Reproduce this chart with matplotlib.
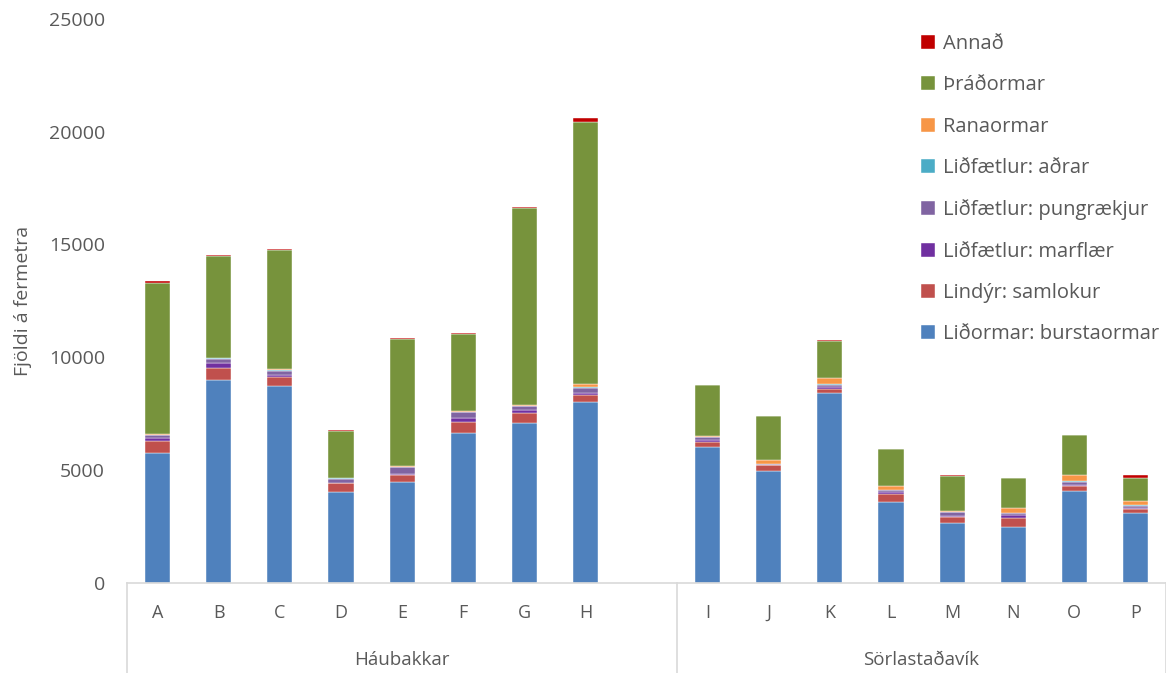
import numpy as np
import matplotlib
matplotlib.use("Agg")
import matplotlib.pyplot as plt

plt.rcParams['font.family'] = ['Open Sans', 'DejaVu Sans']

# Station letters; an empty slot separates the two sites
stations = ["A", "B", "C", "D", "E", "F", "G", "H", "",
            "I", "J", "K", "L", "M", "N", "O", "P"]
groups = ["Háubakkar", "Sörlastaðavík"]

# Individuals per m2, one list per taxon (gap slot = 0)
burstaormar = [5740, 9010, 8717, 4013, 4456, 6624, 7067, 8023, 0,
               6003, 4956, 8421, 3570, 2640, 2492, 4085, 3083]
samlokur = [560, 520, 390, 400, 340, 510, 470, 300, 0,
            220, 266, 190, 370, 270, 370, 210, 190]
marflaer = [100, 220, 120, 30, 30, 150, 120, 100, 0,
            90, 20, 60, 100, 60, 150, 60, 50]
pungraekjur = [150, 190, 170, 180, 310, 300, 180, 200, 0,
               130, 30, 120, 60, 160, 80, 120, 100]
adrar = [20, 20, 20, 10, 10, 10, 20, 70, 0,
         20, 10, 20, 20, 20, 20, 50, 30]
ranaormar = [30, 10, 75, 20, 20, 20, 40, 100, 0,
             50, 150, 265, 150, 50, 200, 250, 180]
thradormar = [6700, 4500, 5280, 2080, 5620, 3400, 8700, 11650, 0,
              2250, 1950, 1650, 1650, 1550, 1320, 1760, 1030]
annad = [60, 50, 20, 40, 50, 50, 60, 180, 0,
         20, 20, 20, 10, 20, 20, 20, 100]

series = [
    ("Liðormar: burstaormar", burstaormar, "#4F81BD"),
    ("Lindýr: samlokur", samlokur, "#C0504D"),
    ("Liðfætlur: marflær", marflaer, "#7030A0"),
    ("Liðfætlur: pungrækjur", pungraekjur, "#8064A2"),
    ("Liðfætlur: aðrar", adrar, "#4BACC6"),
    ("Ranaormar", ranaormar, "#F79646"),
    ("Þráðormar", thradormar, "#77933C"),
    ("Annað", annad, "#C00000"),
]

text_col = "#595959"
line_col = "#D9D9D9"

fig = plt.figure(figsize=(11.66, 6.73), dpi=100)
ax = fig.add_axes([0.109, 0.134, 0.891, 0.838])

x = np.arange(len(stations))
bottom = np.zeros(len(stations))
handles = []
for name, vals, col in series:
    vals = np.array(vals, dtype=float)
    b = ax.bar(x, vals, width=0.41, bottom=bottom, color=col,
               edgecolor="white", linewidth=0.3, label=name)
    handles.append(b)
    bottom += vals

ax.set_xlim(-0.5, len(stations) - 0.5)
ax.set_ylim(0, 25000)
ax.set_yticks(np.arange(0, 25001, 5000))
ax.tick_params(axis="y", length=0, labelsize=14, labelcolor=text_col, pad=16)

tick_pos = [i for i, s in enumerate(stations) if s]
ax.set_xticks(tick_pos)
ax.set_xticklabels([stations[i] for i in tick_pos])
ax.tick_params(axis="x", length=0, labelsize=13, labelcolor=text_col, pad=15)

for side in ["top", "right", "left"]:
    ax.spines[side].set_visible(False)
ax.spines["bottom"].set_color(line_col)
ax.spines["bottom"].set_linewidth(1.2)

ax.set_ylabel("Fjöldi á fermetra", fontsize=14, color=text_col, labelpad=12)

# two-level category axis: separators and site names
trans = ax.get_xaxis_transform()
for xs in [-0.5, 8.5, 16.5]:
    ax.plot([xs, xs], [0, -0.165], transform=trans, color=line_col,
            lw=1.2, clip_on=False)
ax.text(4.0, -0.137, groups[0], transform=trans, ha="center", va="center",
        fontsize=13.5, color=text_col)
ax.text(12.5, -0.137, groups[1], transform=trans, ha="center", va="center",
        fontsize=13.5, color=text_col)

leg = ax.legend(handles[::-1], [s[0] for s in series][::-1],
                loc="upper left", bbox_to_anchor=(0.758, 0.984),
                frameon=False, fontsize=14.5, labelspacing=1.06,
                handlelength=0.7, handleheight=0.7, handletextpad=0.4,
                borderpad=0.3, borderaxespad=0)
for t in leg.get_texts():
    t.set_color(text_col)

fig.savefig("out.png", dpi=100)
